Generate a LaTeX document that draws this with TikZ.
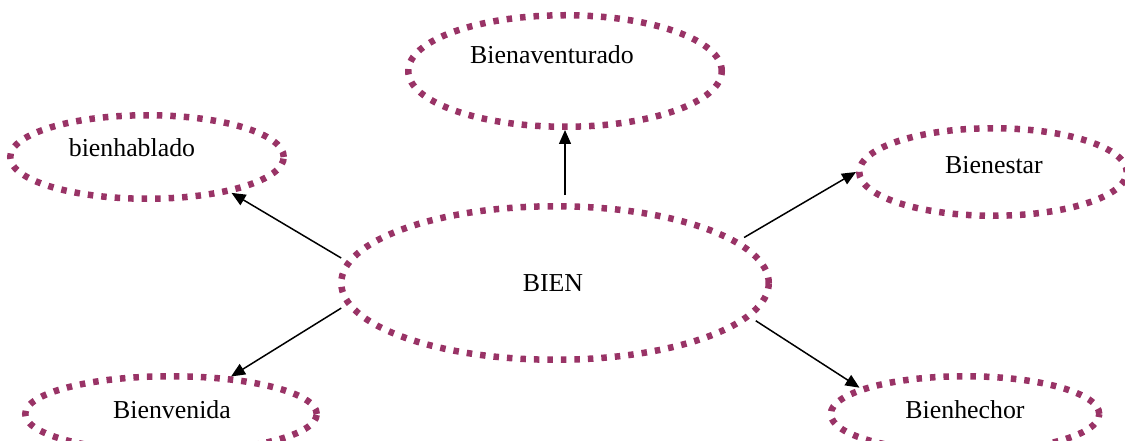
\documentclass[tikz,border=0pt]{standalone}
\usepackage{fontspec}
\setmainfont{Liberation Serif}
\usetikzlibrary{shapes.geometric,arrows.meta}
\definecolor{plum}{RGB}{153,51,102}

\begin{document}
\begin{tikzpicture}[
        bubble/.style={ellipse, draw=plum, line width=0.13cm, dash pattern=on 0.11cm off 0.16cm, inner sep=0pt},
        word/.style={font=\fontsize{14.7pt}{17pt}\selectfont, inner sep=0pt},
        link/.style={line width=0.03cm, -{Triangle[length=0.28cm,width=0.24cm]}, shorten <=0.12cm}]
                \useasboundingbox (0,0) rectangle (22.5,8.8);
                \clip (0,0) rectangle (22.5,8.8);
                \node[bubble, minimum width=8.55cm, minimum height=3.07cm] (bien) at (11.10,3.14) {};
                \node[word] (bien-t) at (11.06,3.14) {BIEN};
                \node[bubble, minimum width=6.27cm, minimum height=2.23cm] (ba) at (11.30,7.38) {};
                \node[word] (ba-t) at (11.04,7.70) {Bienaventurado};
                \node[bubble, minimum width=5.47cm, minimum height=1.67cm] (bh) at (2.94,5.66) {};
                \node[word] (bh-t) at (2.64,5.84) {bienhablado};
                \node[bubble, minimum width=5.35cm, minimum height=1.75cm] (be) at (19.86,5.36) {};
                \node[word] (be-t) at (19.88,5.50) {Bienestar};
                \node[bubble, minimum width=5.83cm, minimum height=1.51cm] (bv) at (3.42,0.52) {};
                \node[word] (bv-t) at (3.44,0.60) {Bienvenida};
                \node[bubble, minimum width=5.37cm, minimum height=1.51cm] (bc) at (19.30,0.52) {};
                \node[word] (bc-t) at (19.30,0.60) {Bienhechor};
                \draw[link, shorten <=0.16cm] (ba.south |- bien.north) -- (ba.south);
                \draw[link] (bien.174) -- (bh.337);
                \draw[link] (bien.13) -- (be.180);
                \draw[link] (bien.186) -- (bv.32);
                \draw[link] (bien.350) -- (bc.166);
            \end{tikzpicture}
\end{document}
